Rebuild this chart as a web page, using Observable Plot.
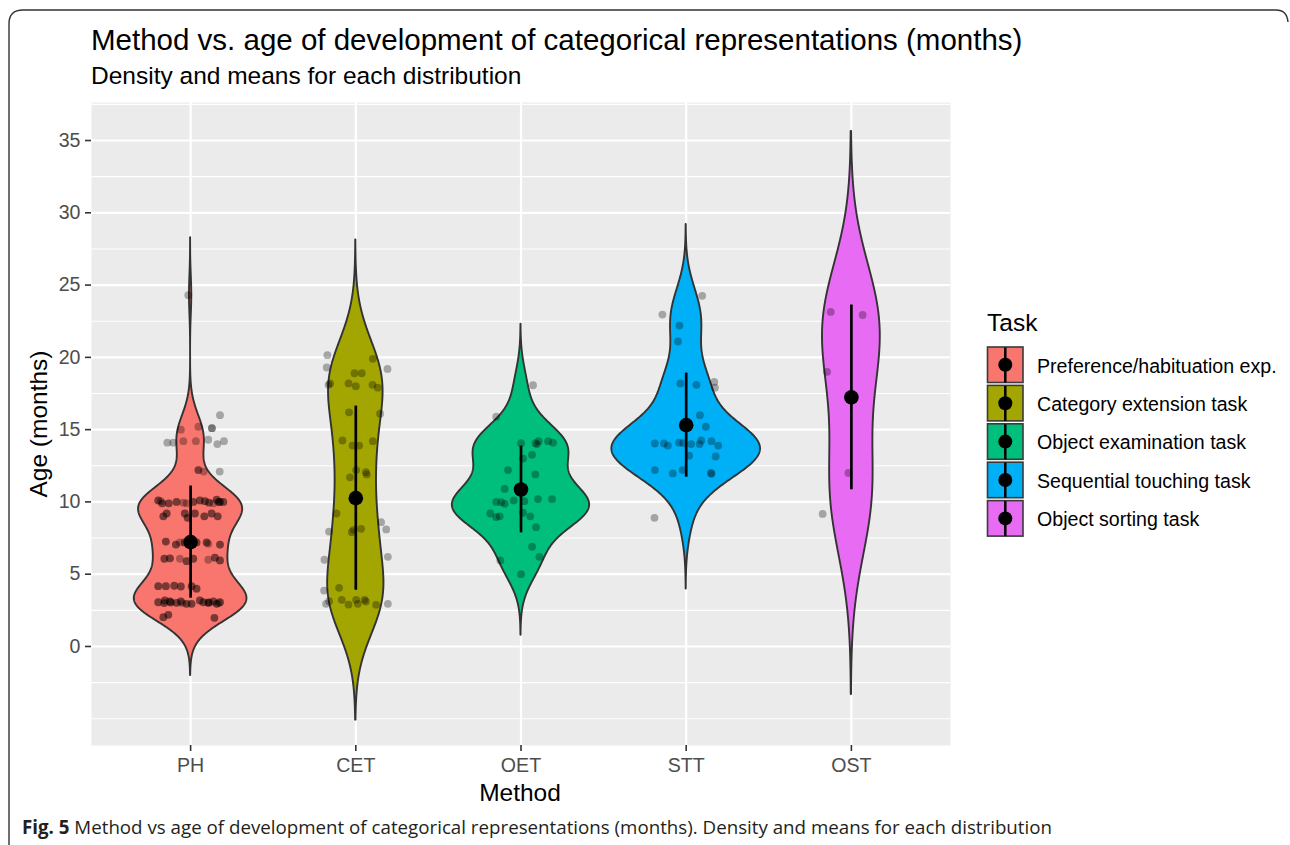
<!DOCTYPE html>
<html><head><meta charset="utf-8">
<script src="https://cdn.jsdelivr.net/npm/d3@7"></script>
<script src="https://cdn.jsdelivr.net/npm/@observablehq/plot@0.6"></script>
<style>
body{margin:0;background:#fff;}
#wrap{position:relative;width:1290px;height:845px;overflow:hidden;font-family:"Liberation Sans",Arial,sans-serif;}
#overlay,#chart{position:absolute;left:0;}
#overlay{top:0;}
#chart{top:90px;}
</style></head><body><div id="wrap"><svg id="overlay" width="1290" height="845"></svg><div id="chart"></div></div>
<script>
// ---------- data ----------
const methods = ["PH", "CET", "OET", "STT", "OST"];
const taskLabels = ["Preference/habituation exp.", "Category extension task", "Object examination task", "Sequential touching task", "Object sorting task"];
const taskColors = ["#F8766D", "#A3A500", "#00BF7D", "#00B0F6", "#E76BF3"];
const yTicks = [0, 5, 10, 15, 20, 25, 30, 35];
const yMinor = [-5, -2.5, 2.5, 7.5, 12.5, 17.5, 22.5, 27.5, 32.5, 37.5];
const meanAge = [7.22, 10.26, 10.86, 15.31, 17.23];
const sdAge = [3.88, 6.37, 3.0, 3.6, 6.39];

// PH: many points overlap (dark clusters), so repeated values are listed
const phAge = [24.3, 16.0,
  15.0, 15.2, 15.1, 15.1,
  14.1, 14.1, 14.2, 14.2, 14.3, 14.0, 14.2,
  12.2, 12.1, 12.1, 12.2,
  10.1, 9.9, 9.9, 10.0, 9.95, 9.9, 10.0, 10.1, 10.05, 9.95, 9.9, 10.15, 10.0, 10.0, 10.0, 10.05,
  10.1, 9.9, 10.0, 10.1, 10.05, 10.15, 10.0, 10.0, 10.0, 9.95, 10.0, 9.9,
  9.0, 9.2, 9.2, 8.9, 9.2, 9.0, 9.2, 9.0, 9.0, 9.2, 9.2, 9.2, 9.0, 9.2, 9.0, 8.9,
  7.26, 7.05, 7.2, 7.2, 7.2, 7.2, 7.1, 7.05, 7.26, 7.05, 7.2, 7.2, 7.2, 7.05,
  6.07, 6.1, 6.07, 5.9, 6.07, 6.0, 6.14, 5.95, 6.07, 6.1, 5.9, 6.07, 6.14, 5.95,
  4.17, 4.17, 4.2, 4.15, 4.17, 4.0, 4.17, 4.17, 4.2, 4.15, 4.17, 4.0,
  3.06, 3.18, 3.11, 3.02, 3.11, 2.95, 2.95, 3.18, 3.06, 3.02, 3.11, 2.95, 3.06, 3.0, 3.05, 3.0, 3.05, 3.0,
  3.06, 3.18, 3.11, 3.02, 3.11, 2.95, 2.95, 3.18, 3.06, 3.02, 3.11, 2.95, 3.06, 3.0, 3.05, 3.05,
  2.03, 2.19, 1.98, 2.03, 2.19, 1.98];
const phJitter = [-0.014, 0.178,
  -0.059, 0.047, 0.129, 0.129,
  -0.141, -0.105, -0.044, 0.032, 0.107, 0.162, 0.202,
  0.047, 0.079, 0.176, 0.047,
  -0.196, -0.172, -0.132, -0.085, -0.044, -0.024, 0.016, 0.056, 0.087, 0.111, 0.138, 0.158, 0.178, 0.198, 0.17, -0.18,
  -0.196, -0.172, 0.016, 0.056, 0.087, 0.158, 0.178, 0.198, -0.085, 0.111, 0.17, -0.132,
  -0.165, -0.145, -0.035, -0.018, 0.026, 0.083, 0.127, 0.164, -0.165, -0.145, -0.035, 0.026, 0.083, 0.127, 0.164, -0.018,
  -0.150, -0.089, -0.065, -0.036, 0.036, 0.097, 0.107, 0.178, -0.150, -0.089, -0.036, 0.036, 0.097, 0.178,
  -0.159, -0.125, -0.065, -0.024, 0.016, 0.107, 0.147, 0.178, -0.159, -0.125, -0.024, 0.016, 0.147, 0.178,
  -0.196, -0.150, -0.099, -0.059, 0.006, 0.036, -0.196, -0.150, -0.099, -0.059, 0.006, 0.036,
  -0.196, -0.156, -0.125, -0.085, -0.059, -0.024, 0.006, 0.056, 0.077, 0.107, 0.138, 0.158, 0.178, -0.16, -0.12, -0.05, 0.11, 0.17,
  -0.196, -0.156, -0.125, -0.085, -0.059, -0.024, 0.006, 0.056, 0.077, 0.107, 0.138, 0.158, 0.178, -0.16, -0.12, 0.11,
  -0.165, -0.135, 0.144, -0.165, -0.135, 0.144];

const cetAge = [20.15, 19.9, 19.3, 19.2, 18.9, 18.9, 18.2, 18.1, 18.2, 18.0, 18.1, 17.9, 16.2, 16.1,
  14.25, 13.9, 13.9, 14.2, 12.2, 11.7, 12.06, 11.9, 9.2, 8.6, 7.95, 8.1, 8.07, 8.14, 7.9, 6.0, 6.2, 3.87, 4.06,
  2.95, 3.13, 3.23, 2.9, 3.23, 2.95, 3.23, 3.11, 2.88, 2.95];
const cetJitter = [-0.172, 0.103, -0.176, 0.192, -0.008, 0.036, -0.156, -0.165, -0.044, 0, 0.101, 0.133, -0.041, 0.147,
  -0.081, -0.020, 0.020, 0.103, 0.002, -0.035, 0.061, 0.066, -0.117, 0.153, -0.162, 0.184, -0.014, 0.032, -0.024, -0.190, 0.194, -0.192, -0.101,
  -0.180, -0.162, -0.085, -0.044, 0.002, 0.012, 0.053, 0.061, 0.123, 0.194];

const oetAge = [18.07, 15.9, 14.06, 14.06, 14.2, 14.0, 14.2, 14.1, 13.26, 13.0, 12.2, 11.9, 10.9, 10.1, 10.05, 10.2, 10.2,
  10.0, 9.98, 9.87, 9.2, 8.95, 9.0, 9.25, 9.0, 8.25, 6.9, 6.2, 5.95, 5.0];
const oetJitter = [0.073, -0.150, 0, 0.087, 0.107, 0.097, 0.164, 0.194, 0.067, 0.012, -0.079, 0.087, -0.099, -0.044, 0.020, 0.103, 0.188,
  -0.150, -0.119, -0.099, -0.186, -0.150, -0.129, 0.012, 0.056, 0.091, 0.067, 0.111, -0.125, 0];

const sttAge = [24.26, 22.96, 22.2, 21.1, 18.2, 18.1, 18.3, 17.9, 16.0, 15.2, 14.04, 14.04, 13.9, 14.1, 14.07, 14.0, 14.25, 14.0, 14.2, 13.9,
  13.2, 13.15, 12.2, 11.97, 12.2, 11.95, 12.0, 8.9];
const sttJitter = [0.097, -0.144, -0.041, -0.050, -0.035, 0.062, 0.170, 0.174, 0.083, 0.119, -0.190, -0.135, -0.111, -0.044, -0.018, 0.030, 0.091, 0.081, 0.153, 0.194,
  0.018, 0.178, -0.190, -0.081, -0.022, 0.153, 0.150, -0.192];

const ostAge = [23.14, 22.93, 19.0, 12.0, 9.17];
const ostJitter = [-0.125, 0.068, -0.147, -0.018, -0.174];

// ---------- derived tables ----------
const groups = [phAge, cetAge, oetAge, sttAge, ostAge];
const jitters = [phJitter, cetJitter, oetJitter, sttJitter, ostJitter];

const points = [];
groups.forEach((ages, i) => ages.forEach((a, k) => points.push({method: methods[i], age: a, x: i + jitters[i][k]})));

function bwNrd0(v) {
  const s = d3.deviation(v);
  const sorted = [...v].sort(d3.ascending);
  const iqr = d3.quantileSorted(sorted, 0.75) - d3.quantileSorted(sorted, 0.25);
  let lo = Math.min(s, iqr / 1.34);
  if (!(lo > 0)) lo = s || 1;
  return 0.9 * lo * Math.pow(v.length, -0.2);
}
const dens = groups.map((v, i) => {
  const bw = bwNrd0(v);
  const lo = d3.min(v) - 3 * bw, hi = d3.max(v) + 3 * bw;
  const n = 512, out = [];
  for (let j = 0; j < n; j++) {
    const y = lo + (hi - lo) * j / (n - 1);
    let s = 0;
    for (const a of v) { const z = (y - a) / bw; s += Math.exp(-0.5 * z * z); }
    out.push({method: methods[i], i, y, d: s / (v.length * bw * Math.sqrt(2 * Math.PI))});
  }
  return out;
});
const maxD = d3.max(dens.flat(), r => r.d);
const violinRows = dens.flat().map(r => ({...r, x1: r.i - 0.45 * r.d / maxD, x2: r.i + 0.45 * r.d / maxD}));
const summary = methods.map((m, i) => ({method: m, i, mean: meanAge[i], lo: meanAge[i] - sdAge[i], hi: meanAge[i] + sdAge[i]}));

// ---------- plot ----------
const font = "Liberation Sans, Arial, sans-serif";
const chart = Plot.plot({
  width: 960, height: 720,
  marginTop: 12, marginBottom: 65, marginLeft: 91, marginRight: 10,
  style: {fontFamily: font, background: "transparent", overflow: "visible"},
  x: {domain: [-0.6, 4.6]},
  y: {domain: [-6.85, 37.63]},
  color: {domain: methods, range: taskColors},
  marks: [
    Plot.frame({fill: "#EBEBEB", stroke: null}),
    Plot.ruleY(yMinor, {stroke: "white", strokeWidth: 1.1}),
    Plot.ruleY(yTicks, {stroke: "white", strokeWidth: 2.2}),
    Plot.ruleX(d3.range(methods.length), {stroke: "white", strokeWidth: 2.2}),
    Plot.areaX(violinRows, {y: "y", x1: "x1", x2: "x2", z: "method", fill: "method", stroke: "#333333", strokeWidth: 1.9, curve: "linear"}),
    Plot.dot(points, {x: "x", y: "age", r: 3.9, fill: "black", fillOpacity: 0.3, stroke: null}),
    Plot.ruleX(summary, {x: "i", y1: "lo", y2: "hi", stroke: "black", strokeWidth: 2.7}),
    Plot.dot(summary, {x: "i", y: "mean", r: 7.3, fill: "black", stroke: null}),
    Plot.axisY({ticks: yTicks, tickSize: 6, tickPadding: 5, fontSize: 19.6, label: null, tickFormat: d => String(d)}),
    Plot.axisX({ticks: d3.range(methods.length), tickFormat: i => methods[i], tickSize: 6, tickPadding: 7, fontSize: 19.6, label: null})
  ]
});
chart.querySelectorAll('[aria-label$="tick label"]').forEach(g => { g.setAttribute("fill", "#4D4D4D"); g.querySelectorAll("text").forEach(t => t.setAttribute("fill", "#4D4D4D")); });
chart.querySelectorAll('[aria-label$="-axis tick"]').forEach(g => { g.setAttribute("stroke", "#333333"); g.setAttribute("stroke-width", "1.6"); });
document.getElementById("chart").appendChild(chart);

// ---------- titles, legend, caption, frame ----------
const ov = d3.select("#overlay");
ov.append("path").attr("d", "M9,845 L9,24 Q9,10 23,10 L1276,10 Q1287,10 1288,22").attr("fill", "none").attr("stroke", "#333").attr("stroke-width", 1.4);
ov.append("text").attr("x", 91).attr("y", 50).attr("font-family", font).attr("font-size", 29.5).attr("fill", "black")
  .text("Method vs. age of development of categorical representations (months)");
ov.append("text").attr("x", 91).attr("y", 84).attr("font-family", font).attr("font-size", 24.5).attr("fill", "black")
  .text("Density and means for each distribution");
ov.append("text").attr("x", 520).attr("y", 801).attr("text-anchor", "middle").attr("font-family", font).attr("font-size", 24.5).attr("fill", "black").text("Method");
ov.append("text").attr("transform", "translate(47,424) rotate(-90)").attr("text-anchor", "middle").attr("font-family", font).attr("font-size", 24.5).attr("fill", "black").text("Age (months)");
// legend
ov.append("text").attr("x", 987).attr("y", 331).attr("font-family", font).attr("font-size", 24.5).attr("fill", "black").text("Task");
taskLabels.forEach((lab, i) => {
  const y0 = 346.5 + 38.4 * i;
  const g = ov.append("g");
  g.append("rect").attr("x", 987.5).attr("y", y0 + 0.5).attr("width", 35.5).attr("height", 35.5).attr("fill", taskColors[i]).attr("stroke", "#3a3a3a").attr("stroke-width", 1.6);
  g.append("line").attr("x1", 1005.3).attr("x2", 1005.3).attr("y1", y0 + 1).attr("y2", y0 + 36).attr("stroke", "black").attr("stroke-width", 2.5);
  g.append("circle").attr("cx", 1005.3).attr("cy", y0 + 18.3).attr("r", 7).attr("fill", "black");
  g.append("text").attr("x", 1037).attr("y", y0 + 19.3).attr("dy", "0.35em").attr("font-family", font).attr("font-size", 19.6).attr("fill", "black").text(lab);
});
// caption
const cap = ov.append("text").attr("x", 22).attr("y", 834).attr("font-family", "Open Sans, sans-serif").attr("font-size", 19).attr("fill", "#231f20")
  .attr("textLength", 1030).attr("lengthAdjust", "spacingAndGlyphs");
cap.append("tspan").attr("font-weight", "bold").text("Fig. 5");
cap.append("tspan").text(" Method vs age of development of categorical representations (months). Density and means for each distribution");
</script></body></html>
